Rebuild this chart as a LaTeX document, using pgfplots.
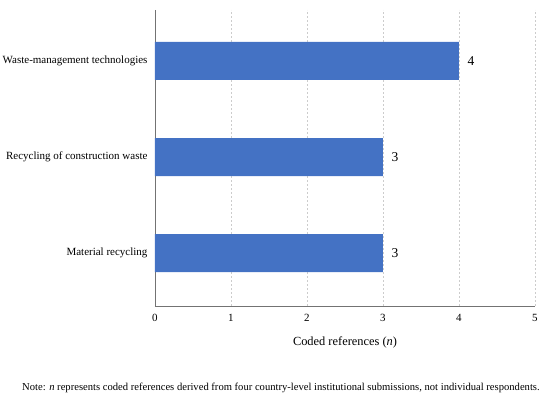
\documentclass[border=0pt]{standalone}
\usepackage{pgfplots}
\pgfplotsset{compat=1.18}
\usepackage{fontspec}
\setmainfont{Liberation Serif}
\definecolor{barblue}{HTML}{4472C4}
\begin{document}
\begin{tikzpicture}[x=1pt,y=1pt]
\path[use as bounding box] (0,0) rectangle (550,402);
\begin{axis}[
  at={(155pt,96pt)}, anchor=south west,
  scale only axis, width=380pt, height=296pt,
  xbar, bar width=38pt,
  xmin=0, xmax=5, ymin=-0.55, ymax=2.53,
  xtick={0,1,2,3,4,5},
  ytick={0,1,2},
  yticklabels={Material recycling, Recycling of construction waste, Waste-management technologies},
  axis x line*=bottom, axis y line*=left,
  axis line style={-, draw=gray!90!black, line width=0.8pt},
  major tick length=0pt,
  xmajorgrids, grid style={dash pattern=on 2pt off 2pt, gray!40, line width=0.5pt},
  /pgf/number format/assume math mode=true,
  tick label style={font=\fontsize{11}{13}\selectfont},
  xticklabel style={yshift=-5pt},
  yticklabel style={xshift=-4pt},
  xlabel={Coded references (\textit{n})},
  xlabel style={font=\fontsize{12.4}{14}\selectfont, at={(axis description cs:0.5,0)}, anchor=center, yshift=-36pt},
  nodes near coords,
  nodes near coords style={font=\fontsize{13.5}{15}\selectfont, anchor=west, xshift=5pt},
  /pgf/number format/fixed,
]
\addplot[fill=barblue, draw=none] coordinates {(3,0) (3,1) (4,2)};
\end{axis}
\node[anchor=west, inner sep=0pt, font=\fontsize{10.6}{12}\selectfont] at (22,14) {Note: \textit{n} represents coded references derived from four country-level institutional submissions, not individual respondents.};
\end{tikzpicture}
\end{document}
